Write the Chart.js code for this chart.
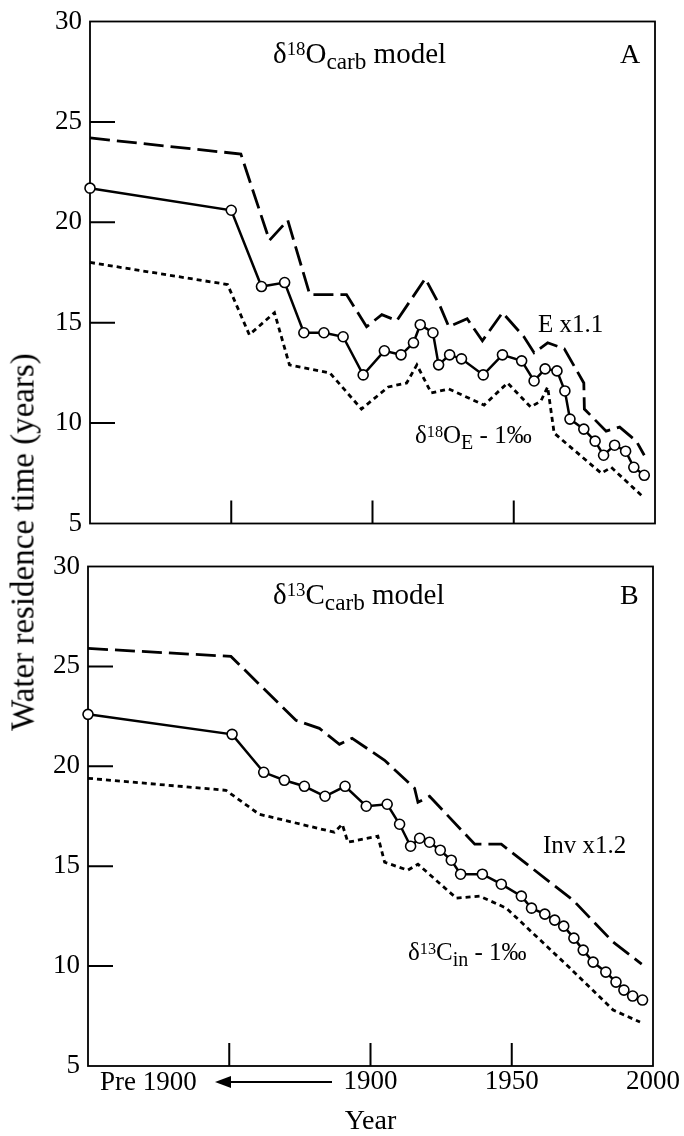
<!DOCTYPE html>
<html>
<head>
<meta charset="utf-8">
<script src="https://cdn.jsdelivr.net/npm/chart.js@4/dist/chart.umd.min.js"></script>
<style>
  body { margin: 0; background: #fff; }
  #wrap { position: relative; width: 684px; height: 1136px; overflow: hidden; }
  canvas { position: absolute; left: 0; }
  #chartA { top: 0; }
  #chartB { top: 545px; }
  #ylab {
    position: absolute; left: 23px; top: 542px;
    transform: translate(-50%, -50%) rotate(-90deg);
    font: 33px 'Liberation Serif', serif; line-height: 1; white-space: nowrap; color: #000;
  }
</style>
</head>
<body>
<div id="wrap">
  <canvas id="chartA" width="684" height="545"></canvas>
  <canvas id="chartB" width="684" height="591"></canvas>
  <div id="ylab">Water residence time (years)</div>
</div>
<script>
// x is a year axis; everything left of the 1850 tick stands for "pre 1900"
const yTicks = [5, 10, 15, 20, 25, 30]
const xTickYears = [1850, 1900, 1950]
const xLabels = [1900, 1950, 2000]

// panel A, d18O carb model
const aSolidYears = [1800, 1850, 1860.7, 1868.9, 1875.7, 1882.8, 1889.6, 1896.7, 1904.2, 1910.1, 1914.5, 1916.9, 1921.4, 1923.4, 1927.3, 1931.5, 1939.2, 1946, 1952.8, 1957.2, 1961.1, 1965.3, 1968.1, 1969.9, 1974.8, 1978.8, 1981.8, 1985.7, 1989.6, 1992.5, 1996.2]
const aSolidValues = [21.7, 20.6, 16.8, 17.0, 14.5, 14.5, 14.3, 12.4, 13.6, 13.4, 14.0, 14.9, 14.5, 12.9, 13.4, 13.2, 12.4, 13.4, 13.1, 12.1, 12.7, 12.6, 11.6, 10.2, 9.7, 9.1, 8.4, 8.9, 8.6, 7.8, 7.4]
const aDashYears = [1800, 1853.4, 1863.5, 1870, 1877.8, 1890.8, 1897.9, 1903.3, 1908.6, 1918.7, 1924, 1927, 1933.5, 1938.9, 1946, 1953.6, 1957.2, 1962, 1967.9, 1974.8, 1975, 1982.7, 1987.5, 1993.4, 1996.2]
const aDashValues = [24.2, 23.4, 19.1, 20.1, 16.4, 16.4, 14.8, 15.4, 15.1, 17.2, 15.8, 14.8, 15.2, 14.1, 15.5, 14.3, 13.5, 14.0, 13.7, 12.0, 10.7, 9.6, 9.8, 9.1, 8.4]
const aDotYears = [1800, 1848.7, 1856.4, 1865.3, 1870.6, 1884.9, 1896.1, 1905.6, 1912.1, 1915.7, 1920.8, 1927, 1939.5, 1947.8, 1956, 1959.6, 1962, 1964.3, 1981, 1984.5, 1995.2]
const aDotValues = [18.0, 16.9, 14.4, 15.5, 12.9, 12.5, 10.7, 11.8, 12.0, 12.9, 11.5, 11.7, 10.9, 12.0, 10.8, 11.1, 11.8, 9.5, 7.5, 7.8, 6.4]

// panel B, d13C carb model
const bSolidYears = [1800, 1851, 1862.2, 1869.5, 1876.6, 1883.9, 1891, 1898.5, 1905.9, 1910.3, 1914.2, 1917.4, 1920.9, 1924.7, 1928.6, 1931.9, 1939.6, 1946.3, 1953.4, 1957, 1961.7, 1965.2, 1968.4, 1972, 1975.3, 1978.8, 1983.3, 1986.9, 1989.7, 1992.8, 1996.3]
const bSolidValues = [22.6, 21.6, 19.7, 19.3, 19.0, 18.5, 19.0, 18.0, 18.1, 17.1, 16.0, 16.4, 16.2, 15.8, 15.3, 14.6, 14.6, 14.1, 13.5, 12.9, 12.6, 12.3, 12.0, 11.4, 10.8, 10.2, 9.7, 9.2, 8.8, 8.5, 8.3]
const bDashYears = [1800, 1850.6, 1873.6, 1881.9, 1889, 1893.5, 1905, 1915.6, 1916.8, 1920.9, 1936.9, 1946.3, 1971.7, 1985.9, 1996]
const bDashValues = [25.9, 25.5, 22.3, 21.9, 21.1, 21.4, 20.3, 18.9, 18.2, 18.5, 16.1, 16.1, 13.3, 11.2, 10.1]
const bDotYears = [1800, 1848.8, 1860.6, 1887.2, 1890, 1892, 1902.6, 1905, 1913.2, 1916.8, 1930.4, 1938.7, 1948.1, 1970.6, 1985.9, 1995.4]
const bDotValues = [19.4, 18.8, 17.6, 16.7, 17.1, 16.2, 16.5, 15.2, 14.8, 15.1, 13.4, 13.5, 12.9, 9.9, 7.8, 7.2]

const FONT = "'Liberation Serif', serif"

function pts(xs, ys) {
  return xs.map((x, i) => ({ x: x, y: ys[i] }))
}

function drawRich(ctx, x, y, parts, size) {
  parts.forEach(p => {
    let fs = size, dy = 0
    if (p.sup) { fs = size * 0.65; dy = -size * 0.26 }
    if (p.sub) { fs = size * 0.8; dy = size * 0.22 }
    ctx.font = fs + 'px ' + FONT
    ctx.fillText(p.t, x, y + dy)
    x += ctx.measureText(p.t).width
  })
}

const panelPlugin = {
  id: 'panel',
  beforeDatasetsDraw(chart, args, opts) {
    const { ctx, chartArea: a } = chart
    const x = chart.scales.x, y = chart.scales.y
    ctx.save()
    ctx.strokeStyle = '#000'
    ctx.lineWidth = 1.8
    ctx.strokeRect(a.left, a.top, a.right - a.left, a.bottom - a.top)
    ctx.lineWidth = 2
    ctx.beginPath()
    yTicks.forEach(v => {
      if (v <= 5 || v >= 30) return
      const py = y.getPixelForValue(v)
      ctx.moveTo(a.left, py); ctx.lineTo(a.left + 25, py)
    })
    xTickYears.forEach(v => {
      const px = x.getPixelForValue(v)
      ctx.moveTo(px, a.bottom); ctx.lineTo(px, a.bottom - 23)
    })
    ctx.stroke()
    ctx.restore()
  },
  afterDraw(chart, args, opts) {
    const ctx = chart.ctx
    ctx.save()
    ctx.fillStyle = '#000'
    ctx.textBaseline = 'alphabetic'
    drawRich(ctx, opts.title.x, opts.title.y, opts.title.parts, 29)
    ctx.font = '28px ' + FONT
    ctx.fillText(opts.letter, 620, opts.title.y)
    opts.notes.forEach(n => drawRich(ctx, n.x, n.y, n.parts, 25))
    if (opts.pre) {
      ctx.font = '27px ' + FONT
      ctx.fillText('Pre 1900', 100, 545)
      ctx.lineWidth = 2
      ctx.beginPath()
      ctx.moveTo(332, 537); ctx.lineTo(225, 537)
      ctx.stroke()
      ctx.beginPath()
      ctx.moveTo(215, 537); ctx.lineTo(231, 531); ctx.lineTo(231, 543)
      ctx.closePath(); ctx.fill()
    }
    ctx.restore()
  }
}

function makeDatasets(sy, sv, dy, dv, oy, ov) {
  return [
    { data: pts(sy, sv), borderColor: '#000', borderWidth: 2.5, pointRadius: 5,
      pointBackgroundColor: '#fff', pointBorderColor: '#000', pointBorderWidth: 1.6, clip: false },
    { data: pts(dy, dv), borderColor: '#000', borderWidth: 2.8, borderDash: [20, 7], pointRadius: 0, clip: false },
    { data: pts(oy, ov), borderColor: '#000', borderWidth: 2.8, borderDash: [5, 4], pointRadius: 0, clip: false }
  ]
}

function makeChart(id, datasets, leftW, pad, showX, panelOpts) {
  return new Chart(document.getElementById(id), {
    type: 'line',
    data: { datasets: datasets },
    options: {
      responsive: false,
      animation: false,
      devicePixelRatio: 1,
      layout: { padding: pad },
      plugins: { legend: { display: false }, tooltip: { enabled: false }, panel: panelOpts },
      scales: {
        x: {
          type: 'linear', min: 1800, max: 2000, display: showX,
          grid: { display: false, drawTicks: false }, border: { display: false },
          ticks: {
            stepSize: 50, autoSkip: false, maxRotation: 0, padding: 2, color: '#000',
            font: { family: FONT, size: 27, lineHeight: 1 },
            callback: v => (xLabels.includes(v) ? String(v) : '')
          },
          title: { display: true, text: 'Year', color: '#000', font: { family: FONT, size: 28, lineHeight: 1 }, padding: 0 },
          afterFit(s) { s.height = showX ? 70 : 0 }
        },
        y: {
          min: 5, max: 30,
          grid: { display: false, drawTicks: false }, border: { display: false },
          ticks: { stepSize: 5, padding: 8, color: '#000', font: { family: FONT, size: 27, lineHeight: 1 } },
          afterFit(s) { s.width = leftW }
        }
      }
    },
    plugins: [panelPlugin]
  })
}

makeChart('chartA', makeDatasets(aSolidYears, aSolidValues, aDashYears, aDashValues, aDotYears, aDotValues),
  90, { top: 21, right: 29, bottom: 14, left: 0 }, false, {
    letter: 'A',
    title: { x: 273, y: 63, parts: [{ t: 'δ' }, { t: '18', sup: true }, { t: 'O' }, { t: 'carb', sub: true }, { t: ' model' }] },
    notes: [
      { x: 538, y: 332, parts: [{ t: 'E x1.1' }] },
      { x: 415, y: 443, parts: [{ t: 'δ' }, { t: '18', sup: true }, { t: 'O' }, { t: 'E', sub: true }, { t: ' - 1‰' }] }
    ]
  })

makeChart('chartB', makeDatasets(bSolidYears, bSolidValues, bDashYears, bDashValues, bDotYears, bDotValues),
  88, { top: 17, right: 31, bottom: 0, left: 0 }, true, {
    letter: 'B',
    pre: true,
    title: { x: 273, y: 59, parts: [{ t: 'δ' }, { t: '13', sup: true }, { t: 'C' }, { t: 'carb', sub: true }, { t: ' model' }] },
    notes: [
      { x: 543, y: 308, parts: [{ t: 'Inv x1.2' }] },
      { x: 408, y: 415, parts: [{ t: 'δ' }, { t: '13', sup: true }, { t: 'C' }, { t: 'in', sub: true }, { t: ' - 1‰' }] }
    ]
  })
</script>
</body>
</html>
